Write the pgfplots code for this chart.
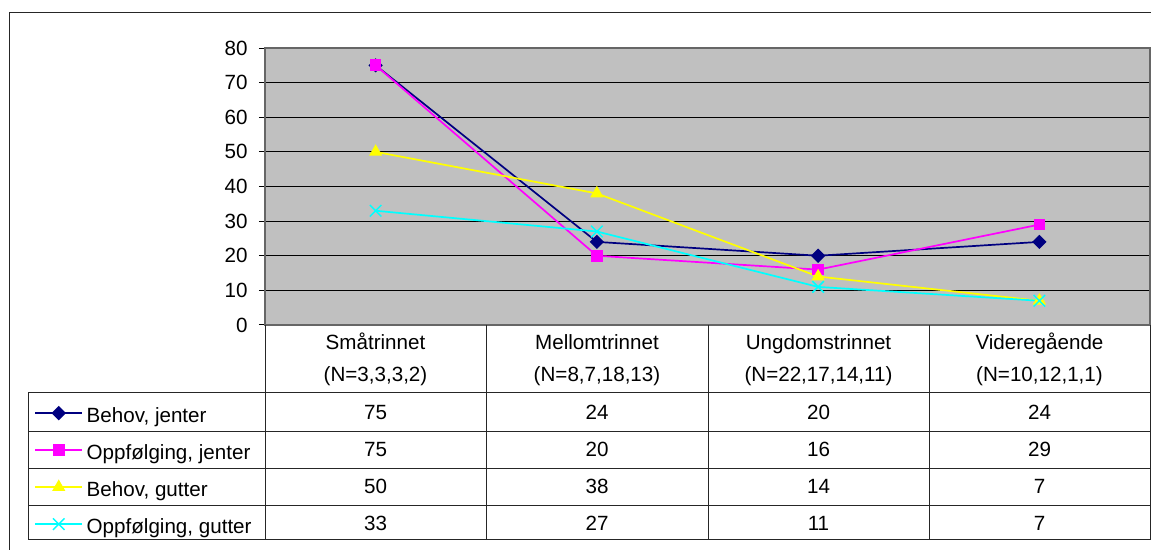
\documentclass[border=0pt]{standalone}
\usepackage{pgfplots}
\pgfplotsset{compat=1.18}
\usepackage{pgfplotstable}
\usepackage{fontspec}
\setmainfont{Liberation Sans}

\definecolor{plotgrey}{HTML}{C0C0C0}
\definecolor{navyline}{HTML}{000080}
\definecolor{magentaline}{HTML}{FF00FF}
\definecolor{yellowline}{HTML}{FFFF00}
\definecolor{cyanline}{HTML}{00FFFF}

% Share (%) per school level; x = column centre
\pgfplotstableread{
x    bj  oj  bg  og
0.5  75  75  50  33
1.5  24  20  38  27
2.5  20  16  14  11
3.5  24  29   7   7
}\datatable

\begin{document}
\begin{tikzpicture}[x=0.5pt,y=0.5pt,font=\fontsize{10.3}{12}\selectfont]
\useasboundingbox (0,0) rectangle (1151,550);
% chart frame
\draw[black!85,line width=0.5pt] (9.5,0) -- (9.5,537) -- (1151,537);

\begin{axis}[
  at={(132.5pt,112.5pt)}, anchor=south west,
  scale only axis, width=442.5pt, height=138.5pt,
  xmin=0, xmax=4, ymin=0, ymax=80,
  xtick=\empty, ytick={0,10,...,80},
  ytick pos=left,
  ymajorgrids, major grid style={black,line width=0.5pt},
  axis background/.style={fill=plotgrey},
  axis line style={draw=black!60,line width=0.7pt},
  tick align=outside, major tick length=3pt,
  ytick style={black,line width=0.5pt},
  yticklabel style={font=\fontsize{10.3}{12}\selectfont,inner sep=0pt,anchor=east,xshift=-5.5pt},
  /pgf/number format/assume math mode=true,
  clip=false,
  legend cell align=left,
  legend style={at={(-0.26102,-0.25)},anchor=north west,draw=none,fill=none,
    inner xsep=0pt,inner ysep=0pt,row sep=0pt,column sep=1.8pt,
    font=\fontsize{10.3}{12}\selectfont,
    nodes={inner sep=0pt,text height=14pt,text depth=4.5pt}},
  legend image code/.code={
    \draw[mark repeat=2,mark phase=2,#1] plot coordinates {(0pt,0pt) (11.75pt,0pt) (23.5pt,0pt)};
  },
]
\addplot[navyline,line width=0.85pt,mark=square*,mark size=2.1pt,
  mark options={rotate=45,solid,fill=navyline}] table[x=x,y=bj] {\datatable};
\addlegendentry{Behov, jenter}
\addplot[magentaline,line width=0.85pt,mark=square*,mark size=2.5pt,
  mark options={solid,fill=magentaline}] table[x=x,y=oj] {\datatable};
\addlegendentry{Oppfølging, jenter}
\addplot[yellowline,line width=0.85pt,mark=triangle*,mark size=3pt,
  mark options={solid,fill=yellowline}] table[x=x,y=bg] {\datatable};
\addlegendentry{Behov, gutter}
\addplot[cyanline,line width=0.85pt,mark=x,mark size=4.1pt,
  mark options={solid,line width=0.75pt}] table[x=x,y=og] {\datatable};
\addlegendentry{Oppfølging, gutter}
\end{axis}

% data table grid
\begin{scope}[draw=black!85,line width=0.5pt]
  \foreach \cx in {265,486,708,929,1150} \draw (\cx,225) -- (\cx,10);
  \draw (28,157) -- (28,10);
  \foreach \ry in {157,118,81,44,10} \draw (28,\ry) -- (1150,\ry);
\end{scope}

% column headings
\foreach \cx/\name/\n in {375.5/Småtrinnet/{(N=3,3,3,2)},
                         597/Mellomtrinnet/{(N=8,7,18,13)},
                         818.5/Ungdomstrinnet/{(N=22,17,14,11)},
                         1039.5/Videregående/{(N=10,12,1,1)}} {
  \node[anchor=base,inner sep=0pt] at (\cx,200) {\name};
  \node[anchor=base,inner sep=0pt] at (\cx,168.5) {\n};
}

% values per row
\foreach \ry/\a/\b/\c/\d in {130/75/24/20/24,
                            93/75/20/16/29,
                            56/50/38/14/7,
                            19/33/27/11/7} {
  \node[anchor=base,inner sep=0pt] at (375.5,\ry) {\a};
  \node[anchor=base,inner sep=0pt] at (597,\ry) {\b};
  \node[anchor=base,inner sep=0pt] at (818.5,\ry) {\c};
  \node[anchor=base,inner sep=0pt] at (1039.5,\ry) {\d};
}
\end{tikzpicture}
\end{document}
